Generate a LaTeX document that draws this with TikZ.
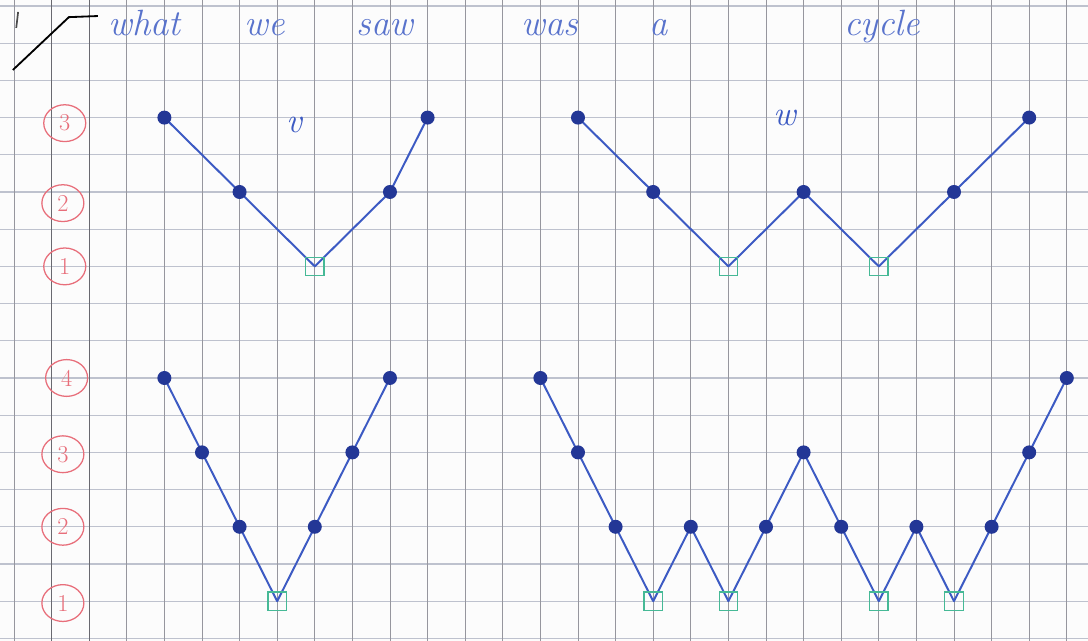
\documentclass[tikz,border=0pt]{standalone}
\usepackage{tikz}
\usetikzlibrary{shapes.geometric,backgrounds}
\definecolor{penblue}{RGB}{60,90,195}
\definecolor{penink}{RGB}{35,55,150}
\definecolor{hilite}{RGB}{70,185,150}
\definecolor{redpen}{RGB}{232,110,122}
\definecolor{gridgrey}{RGB}{150,150,158}
\definecolor{gridlight}{RGB}{190,194,206}
\definecolor{margingrey}{RGB}{105,105,112}
\definecolor{paper}{RGB}{252,252,252}

\begin{document}
\begin{tikzpicture}[x=0.94cm,y=-0.93cm,
    dot/.style={circle,fill=penink,inner sep=0pt,minimum size=0.35cm},
    lowsq/.style={rectangle,draw=hilite,line width=0.9pt,inner sep=0pt,minimum size=0.46cm},
    trace/.style={draw=penblue,line width=1.4pt,line join=round,line cap=round},
    level/.style={ellipse,draw=redpen,text=redpen,line width=0.9pt,inner sep=0pt,minimum width=1.05cm,minimum height=0.92cm,font=\LARGE},
    tag/.style={text=penblue,font=\Huge\itshape,inner sep=0pt},
    scrawl/.style={text=penblue!85,font=\fontsize{26}{26}\selectfont\itshape,inner sep=0pt},
    gridh/.style={draw=gridlight,line width=0.8pt},
    gridv/.style={draw=gridgrey,line width=0.6pt},
    margin/.style={draw=margingrey,line width=0.8pt}
]
    \useasboundingbox (-0.372,-0.161) rectangle (28.564,17.07);
    \clip (-0.372,-0.161) rectangle (28.564,17.07);

    % squared paper
    \begin{scope}[on background layer]
        \fill[paper] (-0.372,-0.161) rectangle (28.564,17.07);
        \foreach \r in {0,...,17} \draw[gridh] (-0.372,\r) -- (28.564,\r);
        \foreach \c in {0,...,28} \draw[gridv] (\c,-0.161) -- (\c,17.07);
        \draw[margin] (1,-0.161) -- (1,17.07);
        \draw[margin] (2,-0.161) -- (2,17.07);
    \end{scope}

    % heading along the top edge
    \node[scrawl,anchor=base west] (caption) at (2.5,0.8) {what\hspace{1.6cm}we\hspace{1.8cm}saw\hspace{2.7cm}was\hspace{1.8cm}a\hspace{4.4cm}cycle};
    \draw[black,line width=1.3pt] (-0.03,1.72) -- (1.46,0.30) -- (2.23,0.27);
    \draw[black!70,line width=1.2pt] (0.11,0.16) -- (0.06,0.59);

    % red level marks
    \node[level] (up3) at (1.35,3.15) {3};
    \node[level] (up2) at (1.3,5.3) {2};
    \node[level] (up1) at (1.35,7.0) {1};
    \node[level] (lo4) at (1.4,10.0) {4};
    \node[level] (lo3) at (1.3,12.05) {3};
    \node[level] (lo2) at (1.3,14.0) {2};
    \node[level] (lo1) at (1.3,16.05) {1};

    \node[tag] (vtag) at (7.45,3.2) {v};
    \node[tag] (wtag) at (20.5,3.0) {w};

    % upper v
    \node[dot] (vA) at (4,3) {};
    \node[dot] (vB) at (6,5) {};
    \node[lowsq] (vC) at (8,7) {};
    \node[dot] (vD) at (10,5) {};
    \node[dot] (vE) at (11,3) {};

    % upper w
    \node[dot] (wA) at (15,3) {};
    \node[dot] (wB) at (17,5) {};
    \node[lowsq] (wC) at (19,7) {};
    \node[dot] (wD) at (21,5) {};
    \node[lowsq] (wE) at (23,7) {};
    \node[dot] (wF) at (25,5) {};
    \node[dot] (wG) at (27,3) {};

    % lower v
    \node[dot] (pA) at (4,10) {};
    \node[dot] (pB) at (5,12) {};
    \node[dot] (pC) at (6,14) {};
    \node[lowsq] (pD) at (7,16) {};
    \node[dot] (pE) at (8,14) {};
    \node[dot] (pF) at (9,12) {};
    \node[dot] (pG) at (10,10) {};

    % lower wave
    \node[dot] (qA) at (14,10) {};
    \node[dot] (qB) at (15,12) {};
    \node[dot] (qC) at (16,14) {};
    \node[lowsq] (qD) at (17,16) {};
    \node[dot] (qE) at (18,14) {};
    \node[lowsq] (qF) at (19,16) {};
    \node[dot] (qG) at (20,14) {};
    \node[dot] (qH) at (21,12) {};
    \node[dot] (qI) at (22,14) {};
    \node[lowsq] (qJ) at (23,16) {};
    \node[dot] (qK) at (24,14) {};
    \node[lowsq] (qL) at (25,16) {};
    \node[dot] (qM) at (26,14) {};
    \node[dot] (qN) at (27,12) {};
    \node[dot] (qO) at (28,10) {};

    \begin{scope}[on background layer]
        \draw[trace] (vA.center) -- (vB.center) -- (vC.center) -- (vD.center) -- (vE.center);
        \draw[trace] (wA.center) -- (wB.center) -- (wC.center) -- (wD.center) -- (wE.center) -- (wF.center) -- (wG.center);
        \draw[trace] (pA.center) -- (pB.center) -- (pC.center) -- (pD.center) -- (pE.center) -- (pF.center) -- (pG.center);
        \draw[trace] (qA.center) -- (qB.center) -- (qC.center) -- (qD.center) -- (qE.center) -- (qF.center) -- (qG.center) -- (qH.center)
            -- (qI.center) -- (qJ.center) -- (qK.center) -- (qL.center) -- (qM.center) -- (qN.center) -- (qO.center);
    \end{scope}
\end{tikzpicture}
\end{document}
